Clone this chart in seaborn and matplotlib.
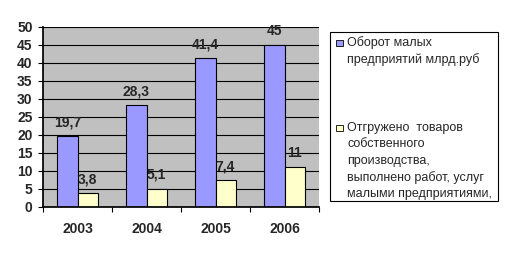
import matplotlib
matplotlib.use("Agg")
import matplotlib.pyplot as plt
import seaborn as sns
import pandas as pd
from matplotlib.patches import Rectangle

years = ["2003", "2004", "2005", "2006"]
turnover = [19.7, 28.3, 41.4, 45]
shipped = [3.8, 5.1, 7.4, 11]
label_turnover = ["Оборот малых", "предприятий млрд.руб"]
label_shipped = ["Отгружено  товаров", "собственного", "производства,",
                 "выполнено работ, услуг", "малыми предприятиями,"]

df = pd.DataFrame({
    "year": years * 2,
    "value": turnover + shipped,
    "series": ["t"] * 4 + ["s"] * 4,
})

sns.set_theme(style="white")
plt.rcParams["font.family"] = ["Liberation Sans", "DejaVu Sans"]

W, H = 508, 254
fig = plt.figure(figsize=(W / 100, H / 100), dpi=100)
ax = fig.add_axes([43 / W, 1 - 207 / H, 276 / W, 180 / H])
colors = ["#9999FF", "#FFFFCC"]
sns.barplot(data=df, x="year", y="value", hue="series", palette=colors,
            width=0.58, edgecolor="black", linewidth=0.8, ax=ax, legend=False,
            saturation=1)
ax.set_facecolor("#C0C0C0")
ax.set_ylim(0, 50)
ax.set_xlim(-0.5, 3.5)
ax.set_yticks(range(0, 51, 5))
ax.yaxis.grid(True, color="black", linewidth=0.8)
ax.set_axisbelow(True)
ax.set_xlabel("")
ax.set_ylabel("")
for s in ["top", "right"]:
    ax.spines[s].set_visible(False)
ax.spines["left"].set_color("black")
ax.spines["bottom"].set_color("black")
ax.set_xticks(range(4))
ax.set_xticklabels(years, fontsize=10, fontweight="bold")
ax.tick_params(axis="x", length=0, pad=11)
ax.set_xticks([-0.5, 0.5, 1.5, 2.5, 3.5], minor=True)
ax.tick_params(axis="x", which="minor", length=3.5, width=0.8, color="black", direction="out")
ax.tick_params(axis="y", length=3.5, width=0.8, color="black", labelsize=10, pad=4)
for lab in ax.get_yticklabels():
    lab.set_fontweight("bold")
ax.xaxis.set_ticks_position("bottom")
ax.yaxis.set_ticks_position("left")

for cont in ax.containers:
    labs = [("%g" % b.get_height()).replace(".", ",") for b in cont]
    ax.bar_label(cont, labels=labs, padding=5, fontsize=10, fontweight="bold",
                 clip_on=False)

# legend drawn manually (pixel layout)
def fx(px):
    return px / W

def fy(py):
    return 1 - py / H

fig.add_artist(Rectangle((fx(330), fy(201)), fx(498) - fx(330), fy(32) - fy(201),
                         transform=fig.transFigure, facecolor="white",
                         edgecolor="black", linewidth=0.8))
entries = [(label_turnover, colors[0], 43), (label_shipped, colors[1], 128)]
for lines, col, y0 in entries:
    fig.add_artist(Rectangle((fx(336), fy(y0 + 3)), 6.5 / W, 6.5 / H,
                             transform=fig.transFigure, facecolor=col,
                             edgecolor="black", linewidth=0.6))
    for i, line in enumerate(lines):
        fig.text(fx(347), fy(y0 + i * 16.4), line, fontsize=9,
                 va="center", ha="left")

fig.savefig("out.png", dpi=100, facecolor="white")
